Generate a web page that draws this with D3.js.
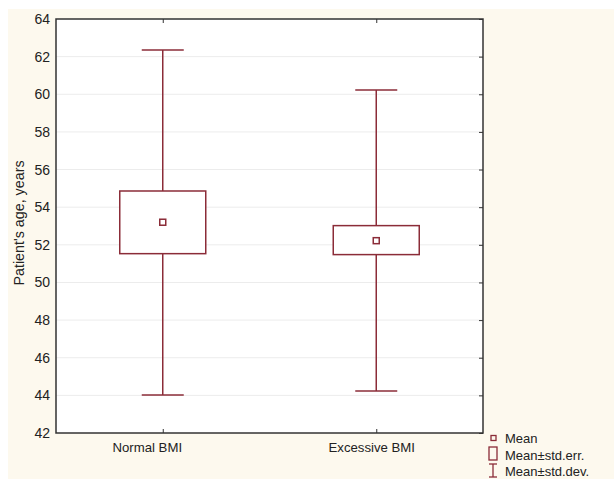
<!DOCTYPE html>
<html><head><meta charset="utf-8">
<script src="https://cdn.jsdelivr.net/npm/d3@7"></script>
<style>body{margin:0;background:#fff}svg{display:block}</style>
</head><body>
<script>
const categories = ["Normal BMI", "Excessive BMI"];
const means = [53.2, 52.22];
const seLow = [51.53, 51.48];
const seHigh = [54.86, 53.02];
const sdLow = [44.02, 44.23];
const sdHigh = [62.35, 60.23];
const yTicks = [42, 44, 46, 48, 50, 52, 54, 56, 58, 60, 62, 64];
const legendLabels = ["Mean", "Mean±std.err.", "Mean±std.dev."];

const W = 614, H = 479;
const m = {left: 56, right: 483, top: 19, bottom: 433};
const col = "#8b2c38";
const font = "Liberation Sans, Arial, sans-serif";
const labelShift = {"Normal BMI": -16, "Excessive BMI": -5};

const svg = d3.select("body").append("svg").attr("width", W).attr("height", H);
svg.append("rect").attr("x", 8).attr("y", 9).attr("width", W - 8).attr("height", H - 9).attr("fill", "#fdf9ee");
svg.append("rect").attr("x", m.left).attr("y", m.top).attr("width", m.right - m.left).attr("height", m.bottom - m.top).attr("fill", "#fff");

const y = d3.scaleLinear().domain([42, 64]).range([m.bottom, m.top]);
const x = d3.scalePoint().domain(categories).range([m.left, m.right]).padding(0.5);

// grid
svg.append("g").selectAll("line").data(yTicks.slice(1, -1)).join("line")
  .attr("x1", m.left).attr("x2", m.right).attr("y1", d => y(d)).attr("y2", d => y(d))
  .attr("stroke", "#ececec").attr("stroke-width", 1);

// y axis labels
const ya = svg.append("g").attr("transform", `translate(${m.left},0)`)
  .call(d3.axisLeft(y).tickValues(yTicks).tickSize(0).tickPadding(6));
ya.select(".domain").remove();
ya.selectAll("text").attr("font-family", font).attr("font-size", 14).attr("fill", "#222");

// right ticks
svg.append("g").attr("transform", `translate(${m.right},0)`)
  .call(d3.axisLeft(y).tickValues(yTicks).tickSize(4).tickFormat(""))
  .call(g => g.select(".domain").remove())
  .selectAll("line").attr("stroke", "#333");

// x axis
const xa = svg.append("g").attr("transform", `translate(0,${m.bottom})`)
  .call(d3.axisBottom(x).tickSize(-4).tickPadding(10));
xa.select(".domain").remove();
xa.selectAll("line").attr("stroke", "#333");
xa.selectAll("text").attr("font-family", font).attr("font-size", 13.2).attr("fill", "#222")
  .attr("dx", d => labelShift[d]);
svg.append("g").attr("transform", `translate(0,${m.top})`)
  .call(d3.axisTop(x).tickSize(-4).tickFormat(""))
  .call(g => g.select(".domain").remove())
  .selectAll("line").attr("stroke", "#333");

// frame
svg.append("rect").attr("x", m.left).attr("y", m.top).attr("width", m.right - m.left).attr("height", m.bottom - m.top)
  .attr("fill", "none").attr("stroke", "#333").attr("stroke-width", 1.5);

// y label
svg.append("text").attr("transform", `translate(24,223) rotate(-90)`)
  .attr("text-anchor", "middle").attr("font-family", font).attr("font-size", 14.3).attr("fill", "#222")
  .text("Patient's age, years");

// boxes
const boxW = 86, capW = 42, meanS = 6;
const g = svg.append("g").attr("stroke", col).attr("stroke-width", 1.5).attr("fill", "none");
categories.forEach((c, i) => {
  const cx = x(c);
  g.append("line").attr("x1", cx).attr("x2", cx).attr("y1", y(sdHigh[i])).attr("y2", y(seHigh[i]));
  g.append("line").attr("x1", cx).attr("x2", cx).attr("y1", y(seLow[i])).attr("y2", y(sdLow[i]));
  g.append("line").attr("x1", cx - capW / 2).attr("x2", cx + capW / 2).attr("y1", y(sdHigh[i])).attr("y2", y(sdHigh[i]));
  g.append("line").attr("x1", cx - capW / 2).attr("x2", cx + capW / 2).attr("y1", y(sdLow[i])).attr("y2", y(sdLow[i]));
  g.append("rect").attr("x", cx - boxW / 2).attr("width", boxW).attr("y", y(seHigh[i])).attr("height", y(seLow[i]) - y(seHigh[i])).attr("fill", "#fff");
  g.append("rect").attr("x", cx - meanS / 2).attr("y", y(means[i]) - meanS / 2).attr("width", meanS).attr("height", meanS);
});

// legend
const lg = svg.append("g");
const lx = 505, ly = [438, 455, 471];
lg.append("rect").attr("x", 491).attr("y", ly[0] - 2.5).attr("width", 5).attr("height", 5).attr("fill", "none").attr("stroke", col).attr("stroke-width", 1.3);
lg.append("rect").attr("x", 489).attr("y", 447).attr("width", 8).attr("height", 13).attr("fill", "none").attr("stroke", col).attr("stroke-width", 1.3);
lg.append("line").attr("x1", 489).attr("x2", 497).attr("y1", 464).attr("y2", 464).attr("stroke", col).attr("stroke-width", 1.3);
lg.append("line").attr("x1", 493).attr("x2", 493).attr("y1", 464).attr("y2", 477).attr("stroke", col).attr("stroke-width", 1.3);
lg.append("line").attr("x1", 489).attr("x2", 497).attr("y1", 477).attr("y2", 477).attr("stroke", col).attr("stroke-width", 1.3);
legendLabels.forEach((t, i) => {
  lg.append("text").attr("x", lx).attr("y", ly[i]).attr("dy", "0.35em")
    .attr("font-family", font).attr("font-size", 13).attr("fill", "#222").text(t);
});
</script>
</body></html>
